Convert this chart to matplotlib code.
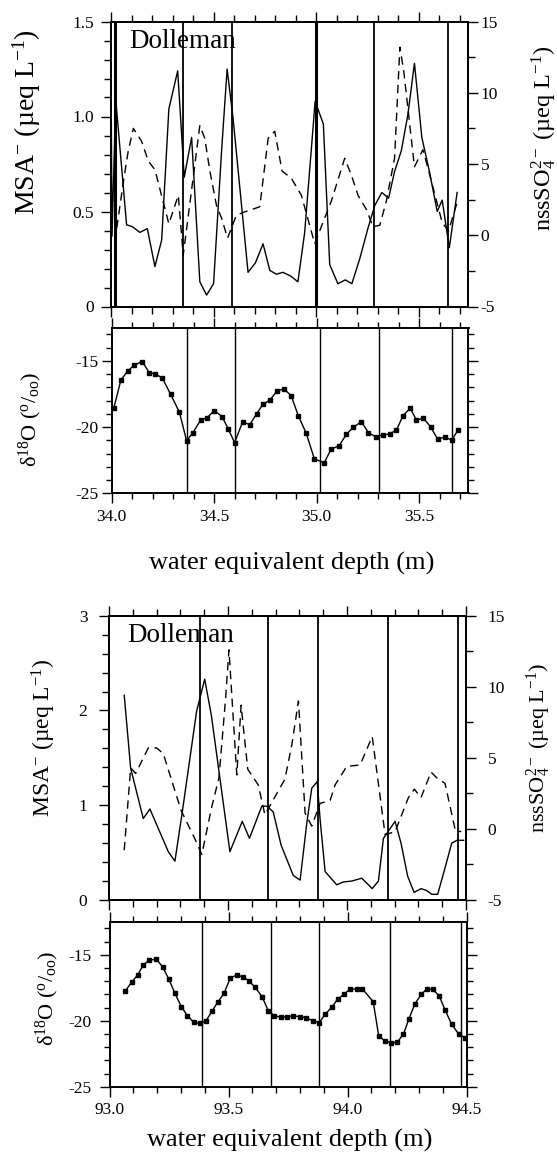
import matplotlib
matplotlib.use('Agg')
import matplotlib.pyplot as plt
from matplotlib.ticker import MultipleLocator, FuncFormatter

plt.rcParams['font.family'] = ['Liberation Serif', 'DejaVu Serif']
plt.rcParams['mathtext.fontset'] = 'custom'
plt.rcParams['mathtext.rm'] = 'Liberation Serif'
plt.rcParams['mathtext.it'] = 'Liberation Serif:italic'
plt.rcParams['axes.unicode_minus'] = False

# ---- upper core section (34.0 - 35.7 m) ----
msa_depth_1 = [34.000, 34.005, 34.023, 34.076, 34.104, 34.141, 34.177, 34.214, 34.247, 34.282,
               34.325, 34.357, 34.393, 34.433, 34.466, 34.500, 34.539, 34.566, 34.595, 34.668,
               34.704, 34.741, 34.774, 34.806, 34.838, 34.876, 34.911, 34.944, 34.995, 35.035,
               35.066, 35.106, 35.142, 35.174, 35.212, 35.252, 35.285, 35.320, 35.353, 35.382,
               35.415, 35.447, 35.479, 35.515, 35.552, 35.590, 35.614, 35.649, 35.687]
msa_1 = [1.27, 0.37, 1.09, 0.43, 0.42, 0.39, 0.41, 0.21, 0.35, 1.04,
         1.24, 0.68, 0.89, 0.13, 0.06, 0.12, 0.82, 1.25, 0.99, 0.18,
         0.23, 0.33, 0.19, 0.17, 0.18, 0.16, 0.13, 0.39, 1.08, 0.96,
         0.22, 0.12, 0.14, 0.12, 0.25, 0.41, 0.53, 0.60, 0.57, 0.71,
         0.82, 1.01, 1.28, 0.89, 0.71, 0.50, 0.56, 0.31, 0.60]

nss_depth_1 = [34.028, 34.065, 34.084, 34.109, 34.149, 34.182, 34.214, 34.282, 34.328, 34.352,
               34.433, 34.457, 34.482, 34.514, 34.539, 34.568, 34.611, 34.644, 34.725, 34.766,
               34.798, 34.834, 34.879, 34.928, 34.993, 35.033, 35.074, 35.139, 35.172, 35.204,
               35.245, 35.277, 35.310, 35.342, 35.382, 35.408, 35.427, 35.479, 35.520, 35.545,
               35.614, 35.645, 35.687]
nss_1 = [0.5, 4.2, 5.9, 7.5, 6.6, 5.2, 4.6, 0.8, 2.8, -1.4,
         7.7, 6.8, 4.5, 2.1, 1.2, -0.2, 1.4, 1.6, 2.0, 6.8,
         7.3, 4.5, 4.0, 2.8, -0.6, 0.9, 2.4, 5.4, 4.2, 2.8,
         1.8, 0.6, 0.7, 2.4, 5.4, 13.2, 11.5, 4.8, 6.0, 4.7,
         0.9, 0.3, 2.3]

d18o_depth_1 = [34.011, 34.046, 34.080, 34.112, 34.150, 34.184, 34.214, 34.248, 34.288, 34.331,
                34.366, 34.397, 34.435, 34.466, 34.501, 34.539, 34.570, 34.600, 34.639, 34.674,
                34.707, 34.738, 34.773, 34.807, 34.842, 34.876, 34.911, 34.949, 34.989, 35.037,
                35.070, 35.110, 35.145, 35.179, 35.218, 35.252, 35.287, 35.321, 35.356, 35.389,
                35.421, 35.456, 35.486, 35.520, 35.555, 35.589, 35.624, 35.658, 35.690]
d18o_1 = [-18.58, -16.44, -15.76, -15.31, -15.06, -15.89, -15.99, -16.31, -17.52, -18.88,
          -21.03, -20.42, -19.46, -19.29, -18.76, -19.21, -20.17, -21.18, -19.61, -19.82,
          -19.01, -18.28, -17.95, -17.27, -17.12, -17.65, -19.16, -20.47, -22.41, -22.69,
          -21.68, -21.40, -20.54, -20.02, -19.59, -20.42, -20.73, -20.60, -20.52, -20.22,
          -19.14, -18.58, -19.46, -19.34, -19.97, -20.90, -20.77, -20.97, -20.22]

marks_msa_1 = [34.019, 34.352, 34.592, 34.999, 35.281, 35.644]
marks_d18o_1 = [34.368, 34.602, 35.014, 35.306, 35.661]

# ---- lower core section (93.0 - 94.5 m) ----
msa_depth_2 = [93.064, 93.091, 93.144, 93.172, 93.249, 93.277, 93.308, 93.368, 93.402, 93.430,
               93.508, 93.560, 93.590, 93.642, 93.663, 93.690, 93.723, 93.774, 93.803, 93.831,
               93.852, 93.875, 93.887, 93.908, 93.957, 93.984, 94.020, 94.062, 94.106, 94.132,
               94.153, 94.202, 94.227, 94.255, 94.282, 94.311, 94.335, 94.356, 94.381, 94.412,
               94.440, 94.462, 94.490]
msa_2 = [2.16, 1.39, 0.86, 0.96, 0.51, 0.41, 0.93, 1.99, 2.33, 1.95,
         0.51, 0.83, 0.65, 0.99, 0.99, 0.93, 0.58, 0.26, 0.21, 0.81,
         1.18, 1.25, 0.85, 0.30, 0.16, 0.19, 0.20, 0.23, 0.12, 0.20,
         0.65, 0.83, 0.60, 0.25, 0.08, 0.12, 0.10, 0.06, 0.06, 0.34,
         0.60, 0.63, 0.63]

nss_depth_2 = [93.064, 93.091, 93.112, 93.165, 93.200, 93.228, 93.303, 93.361, 93.390, 93.431,
               93.462, 93.490, 93.504, 93.537, 93.555, 93.583, 93.607, 93.627, 93.655, 93.739,
               93.768, 93.796, 93.824, 93.852, 93.887, 93.929, 93.950, 93.999, 94.055, 94.106,
               94.160, 94.202, 94.230, 94.258, 94.283, 94.311, 94.353, 94.377, 94.412, 94.455,
               94.480]
nss_2 = [-1.5, 4.3, 3.9, 5.7, 5.7, 5.3, 1.3, -0.7, -1.8, 1.5,
         3.6, 9.2, 12.6, 3.8, 8.7, 4.2, 3.6, 3.1, 1.0, 3.5,
         5.9, 9.0, 1.1, 0.2, 1.8, 2.0, 3.1, 4.4, 4.5, 6.5,
         -0.4, -0.2, 1.0, 2.2, 2.8, 2.2, 4.0, 3.6, 3.2, -0.1,
         -0.2]

d18o_depth_2 = [93.067, 93.093, 93.118, 93.142, 93.168, 93.197, 93.223, 93.249, 93.275, 93.302,
                93.327, 93.354, 93.381, 93.406, 93.432, 93.456, 93.481, 93.508, 93.536, 93.563,
                93.586, 93.612, 93.641, 93.668, 93.693, 93.720, 93.747, 93.772, 93.799, 93.827,
                93.854, 93.881, 93.907, 93.934, 93.959, 93.986, 94.011, 94.038, 94.063, 94.108,
                94.131, 94.156, 94.183, 94.208, 94.235, 94.258, 94.283, 94.310, 94.332, 94.358,
                94.385, 94.410, 94.437, 94.467, 94.494]
d18o_2 = [-17.73, -17.09, -16.54, -15.78, -15.40, -15.35, -15.91, -16.84, -17.93, -18.94,
          -19.62, -20.12, -20.20, -20.00, -19.24, -18.56, -17.93, -16.74, -16.54, -16.71,
          -16.99, -17.47, -18.18, -19.27, -19.62, -19.74, -19.70, -19.62, -19.70, -19.77,
          -20.00, -20.15, -19.49, -18.98, -18.36, -17.98, -17.60, -17.60, -17.60, -18.56,
          -21.14, -21.52, -21.67, -21.64, -21.03, -19.87, -18.73, -18.00, -17.62, -17.62,
          -18.11, -19.19, -20.25, -21.01, -21.29]

marks_msa_2 = [93.382, 93.667, 93.877, 94.171, 94.468]
marks_d18o_2 = [93.387, 93.680, 93.880, 94.180, 94.477]

# the two heavier boundary lines in the upper MSA panel
heavy_marks = [34.019, 34.999]

W, H = 557, 1158
fig = plt.figure(figsize=(W / 100, H / 100), dpi=100)


def px_rect(l, t, r, b):
    return [l / W, 1 - b / H, (r - l) / W, (b - t) / H]


def px_text(x, y, s, **kw):
    fig.text(x / W, 1 - y / H, s, ha='center', va='center', **kw)


def plain(v, pos):
    if abs(v) < 1e-9:
        return '0'
    return '%g' % v


def frame(ax, lw=1.4):
    for sp in ax.spines.values():
        sp.set_linewidth(lw)


def msa_panel(rect, xlim, depth, msa, ndepth, nss, marks, ymax, ystep, yminor, yfmt,
              lpad, rpad):
    ax = fig.add_axes(px_rect(*rect))
    ax.set_xlim(*xlim)
    ax.set_ylim(0, ymax)
    for m in marks:
        ax.axvline(m, color='k', lw=2.2 if m in heavy_marks else 1.3)
    ax.plot(depth, msa, color='k', lw=1.0)
    ax.xaxis.set_major_locator(MultipleLocator(0.5))
    ax.xaxis.set_minor_locator(MultipleLocator(0.1))
    ax.yaxis.set_major_locator(MultipleLocator(ystep))
    ax.yaxis.set_minor_locator(MultipleLocator(yminor))
    ax.yaxis.set_major_formatter(FuncFormatter(yfmt))
    ax.tick_params(axis='x', which='both', direction='out', top=True, bottom=True,
                   labelbottom=False, width=1.0)
    ax.tick_params(axis='y', which='both', direction='out', right=False, width=1.0,
                   labelsize=12.5, pad=lpad)
    ax.tick_params(which='major', length=7.5)
    ax.tick_params(which='minor', length=5)
    frame(ax)

    ax2 = ax.twinx()
    ax2.set_ylim(-5, 15)
    ax2.plot(ndepth, nss, color='k', lw=1.0, ls=(0, (6, 4)))
    ax2.yaxis.set_major_locator(MultipleLocator(5))
    ax2.yaxis.set_minor_locator(MultipleLocator(2.5))
    ax2.yaxis.set_major_formatter(FuncFormatter(plain))
    ax2.tick_params(axis='y', which='both', direction='out', width=1.0,
                    labelsize=12.5, pad=rpad)
    ax2.tick_params(which='major', length=7.5)
    ax2.tick_params(which='minor', length=5)
    frame(ax2)
    ax.text(0.05, 0.93, 'Dolleman', transform=ax.transAxes, fontsize=19.5,
            ha='left', va='center')
    return ax


def d18o_panel(rect, xlim, depth, vals, marks, xfmt, lpad):
    ax = fig.add_axes(px_rect(*rect))
    ax.set_xlim(*xlim)
    ax.set_ylim(-25, -12.5)
    for m in marks:
        ax.axvline(m, color='k', lw=1.0)
    ax.plot(depth, vals, color='k', lw=1.0, marker='s', ms=2.3)
    ax.xaxis.set_major_locator(MultipleLocator(0.5))
    ax.xaxis.set_minor_locator(MultipleLocator(0.1))
    ax.xaxis.set_major_formatter(FuncFormatter(xfmt))
    ax.yaxis.set_major_locator(MultipleLocator(5))
    ax.yaxis.set_minor_locator(MultipleLocator(1))
    ax.yaxis.set_major_formatter(FuncFormatter(plain))
    ax.tick_params(axis='both', which='both', direction='out', top=True, right=True,
                   width=1.0, labelsize=12.5)
    ax.tick_params(axis='y', pad=lpad)
    ax.tick_params(axis='x', pad=4)
    ax.tick_params(which='major', length=7)
    ax.tick_params(which='minor', length=4.5)
    frame(ax)
    return ax


msa_panel((111, 21.5, 468, 306.5), (34.0, 35.74), msa_depth_1, msa_1, nss_depth_1, nss_1,
          marks_msa_1, 1.5, 0.5, 0.1, lambda v, p: '0' if abs(v) < 1e-9 else '%.1f' % v,
          lpad=5, rpad=1.5)
d18o_panel((111.5, 327.7, 468.5, 493.3), (34.0, 35.74), d18o_depth_1, d18o_1, marks_d18o_1,
           lambda v, p: '%.1f' % v, lpad=2)

msa_panel((109, 615.7, 466, 900), (93.0, 94.5), msa_depth_2, msa_2, nss_depth_2, nss_2,
          marks_msa_2, 3, 1, 0.2, plain, lpad=8, rpad=8)
d18o_panel((109.5, 921.7, 466.5, 1086.7), (93.0, 94.5), d18o_depth_2, d18o_2, marks_d18o_2,
           lambda v, p: '%.1f' % v, lpad=6)

msa_label = 'MSA$^{-}$ (µeq L$^{-1}$)'
nss_label = 'nssSO$_4^{2-}$ (µeq L$^{-1}$)'
d18o_label = r'δ$^{18}$O ($^{\mathrm{o}}$/$_{\mathrm{oo}}$)'
depth_label = 'water equivalent depth (m)'

px_text(27, 122, msa_label, rotation=90, fontsize=20)
px_text(544, 138, nss_label, rotation=90, fontsize=17.5)
px_text(30, 419, d18o_label, rotation=90, fontsize=16)
px_text(292, 563, depth_label, fontsize=19)

px_text(44, 738, msa_label, rotation=90, fontsize=17)
px_text(539, 748, nss_label, rotation=90, fontsize=16)
px_text(47, 998, d18o_label, rotation=90, fontsize=16)
px_text(290, 1140, depth_label, fontsize=19)

fig.savefig('out.png', dpi=100)
